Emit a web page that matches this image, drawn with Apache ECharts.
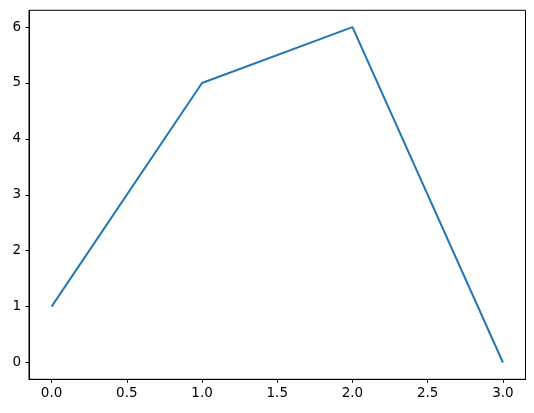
<!DOCTYPE html>
<html><head><meta charset="utf-8">
<script src="https://cdn.jsdelivr.net/npm/echarts@6/dist/echarts.min.js"></script>
<style>html,body{margin:0;padding:0;background:#fff}#c{width:534px;height:413px}</style>
</head><body><div id="c"></div>
<script>
const xValues = [0, 1, 2, 3];
const yValues = [1, 5, 6, 0];
const xTicks = [0, 0.5, 1, 1.5, 2, 2.5, 3];
const yTicks = [0, 1, 2, 3, 4, 5, 6];

const chart = echarts.init(document.getElementById('c'), null, {renderer: 'canvas'});
const font = 'DejaVu Sans';
chart.setOption({
  animation: false,
  grid: {left: 29, right: 8.5, top: 10.3, bottom: 33.7, show: true, borderColor: '#000', borderWidth: 1, backgroundColor: 'transparent'},
  xAxis: {
    type: 'value', min: -0.15, max: 3.15,
    splitLine: {show: false},
    axisLine: {show: true, onZero: false, lineStyle: {color: '#000', width: 1}},
    axisTick: {show: true, inside: false, length: 3.5, lineStyle: {color: '#000'}, customValues: xTicks},
    axisLabel: {color: '#000', fontFamily: font, fontSize: 13.5, margin: 7, customValues: xTicks,
      formatter: v => v.toFixed(1)}
  },
  yAxis: {
    type: 'value', min: -0.3, max: 6.3,
    splitLine: {show: false},
    axisLine: {show: true, onZero: false, lineStyle: {color: '#000', width: 1}},
    axisTick: {show: true, inside: false, length: 3.5, lineStyle: {color: '#000'}, customValues: yTicks},
    axisLabel: {color: '#000', fontFamily: font, fontSize: 13.5, margin: 8, customValues: yTicks,
      formatter: v => String(v)}
  },
  series: [{
    type: 'line',
    data: xValues.map((x, i) => [x, yValues[i]]),
    showSymbol: false,
    lineStyle: {color: '#1f77b4', width: 2},
    itemStyle: {color: '#1f77b4'}
  }]
});
</script></body></html>
